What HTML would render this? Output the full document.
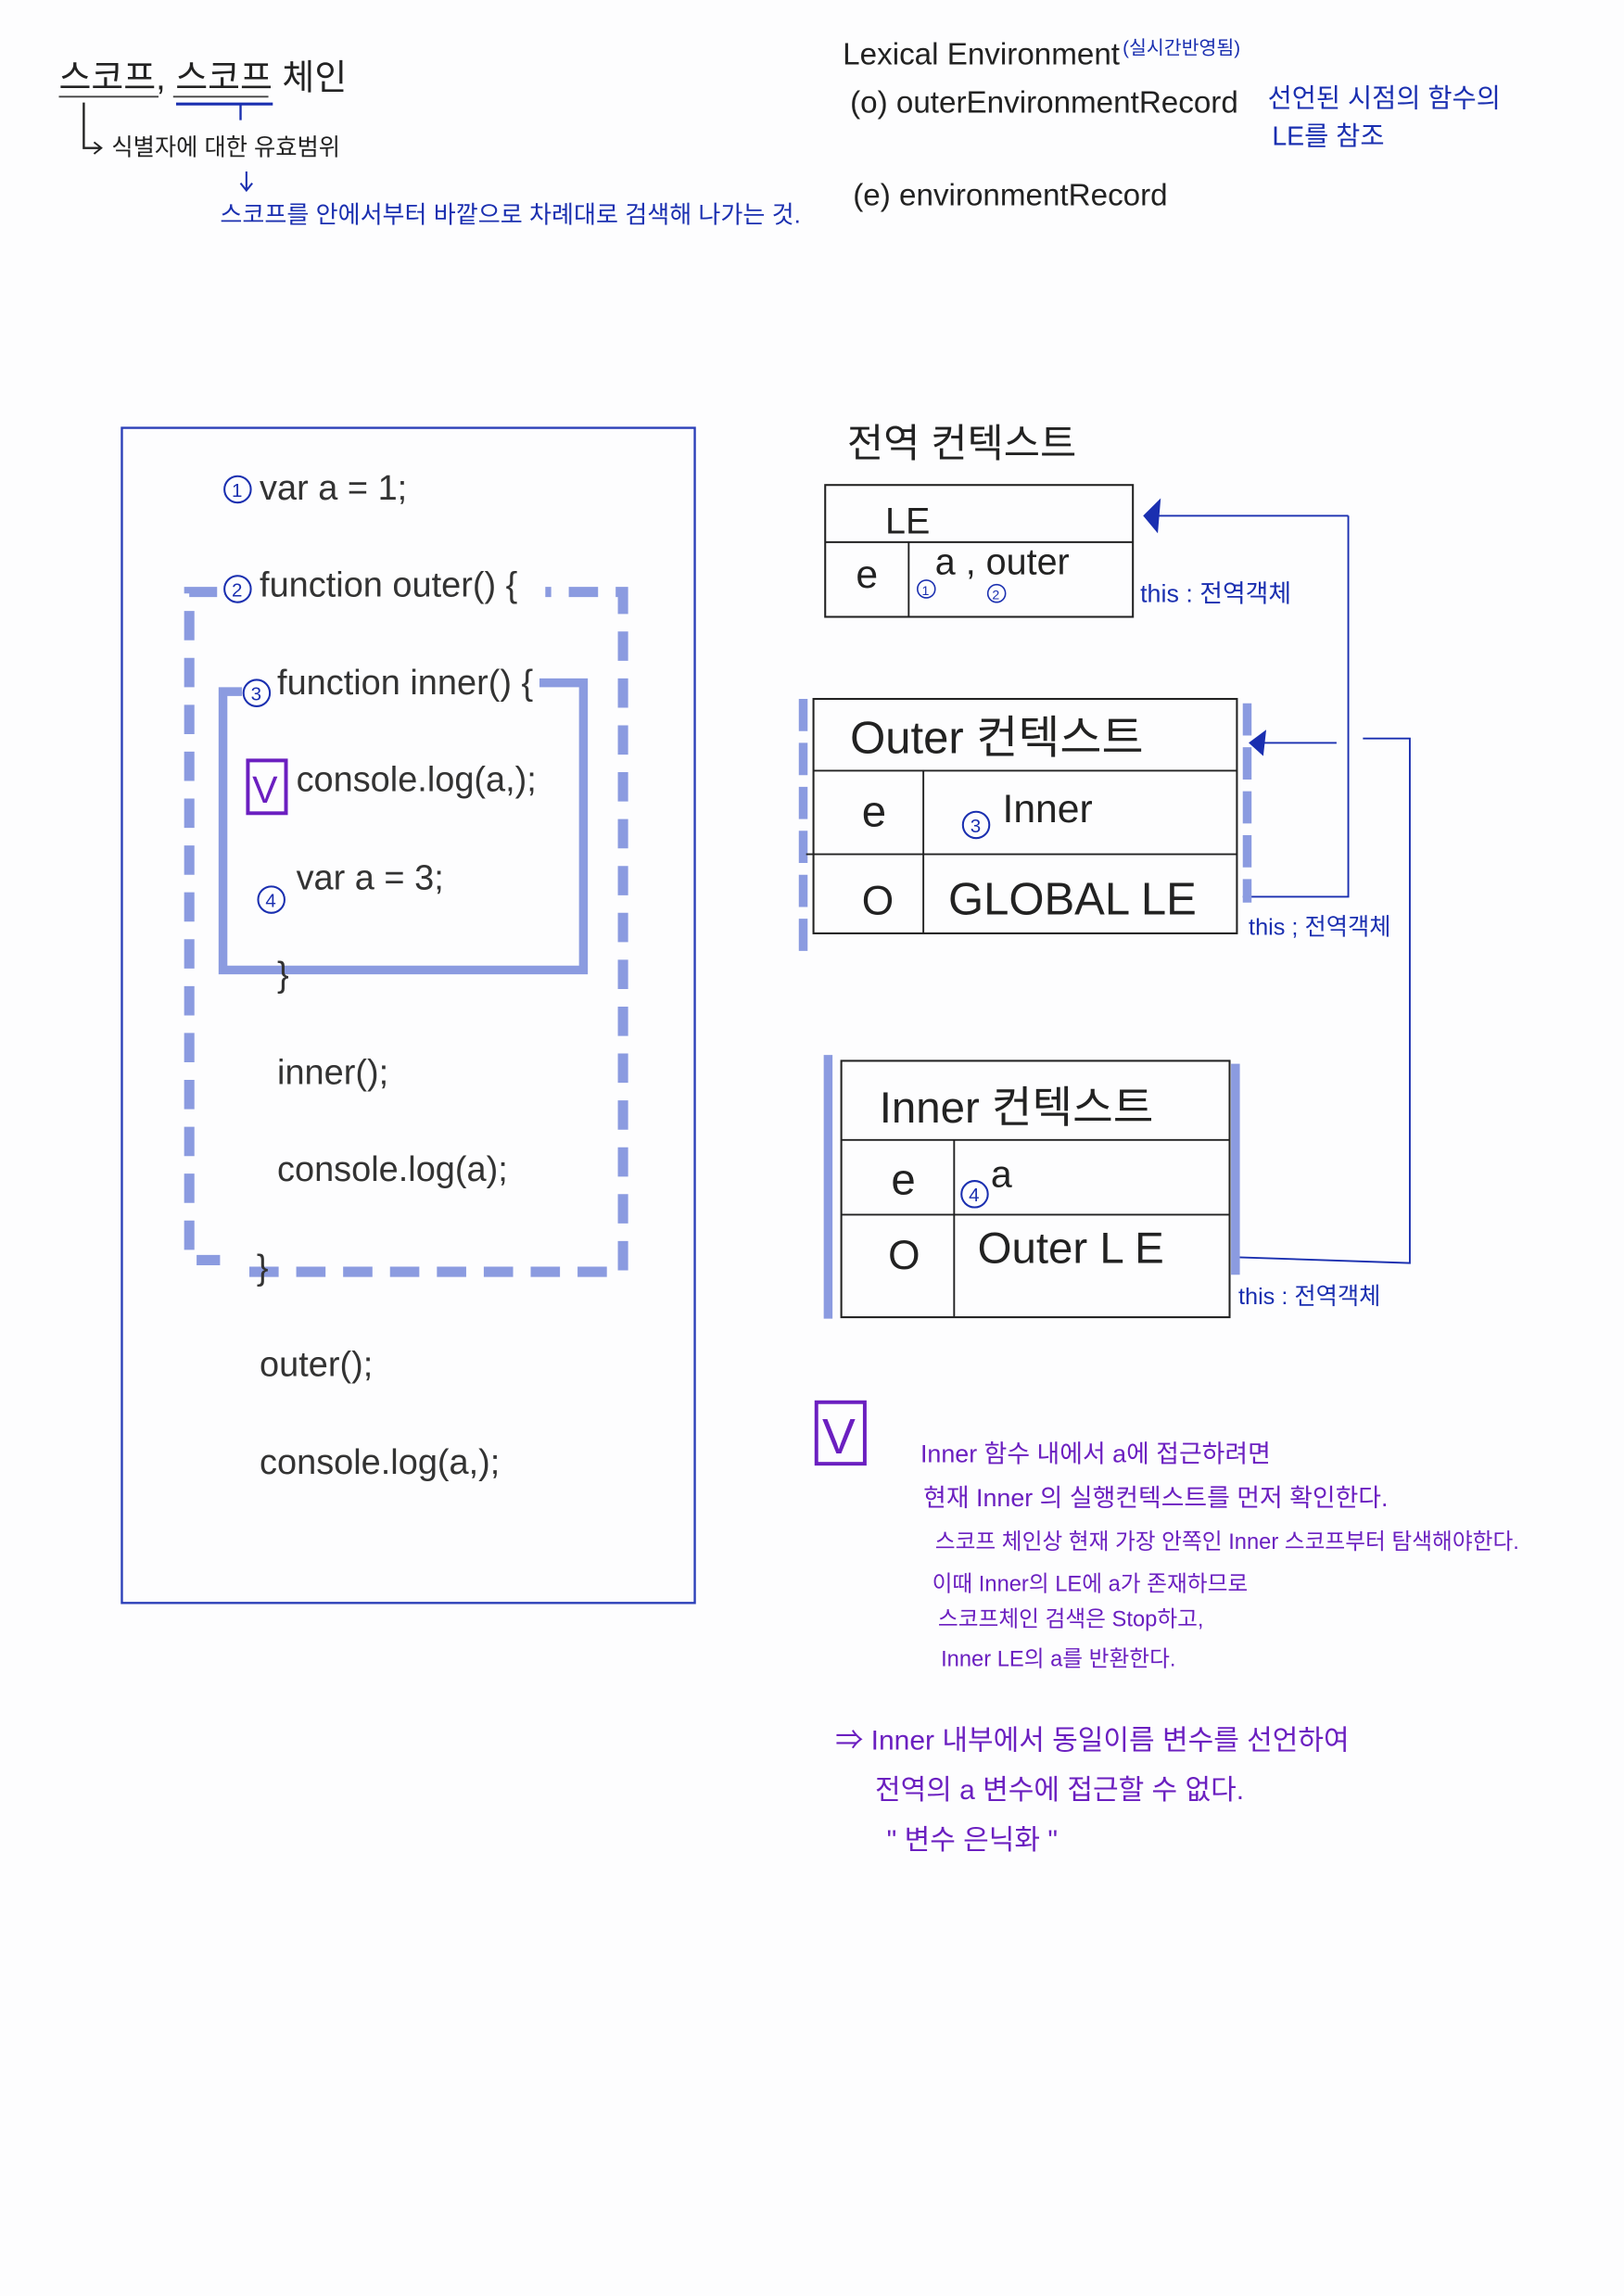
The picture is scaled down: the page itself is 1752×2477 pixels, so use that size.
<!DOCTYPE html>
<html><head><meta charset="utf-8"><style>
html,body{margin:0;padding:0;background:#fdfdfe;}
svg{display:block}
text{font-family:"Liberation Sans","Noto Sans CJK KR",sans-serif;}
.k{fill:#222}
.b{fill:#1a2fb0}
.p{fill:#6b1fc0}
.c{fill:#333;font-size:24px}
</style></head><body>
<svg width="1752" height="2477" viewBox="0 0 1108 1567" xmlns="http://www.w3.org/2000/svg">
<rect width="1108" height="1567" fill="#fdfdfe"/>
<!-- top left -->
<text x="40" y="61" class="k" font-size="24">스코프, 스코프 체인</text>
<line x1="40" y1="66" x2="108" y2="66" stroke="#444" stroke-width="1.2"/>
<line x1="118" y1="66" x2="183" y2="66" stroke="#444" stroke-width="1.2"/>
<line x1="120" y1="71" x2="186" y2="71" stroke="#1a2fb0" stroke-width="2"/>
<line x1="164" y1="71" x2="164" y2="82" stroke="#1a2fb0" stroke-width="1.5"/>
<path d="M57 70 V101 H68" fill="none" stroke="#222" stroke-width="1.5"/>
<path d="M64 97 L69 101 L64 105" fill="none" stroke="#222" stroke-width="1.2"/>
<text x="76" y="106" class="k" font-size="16">식별자에 대한 유효범위</text>
<path d="M168 117 V129 M164 125 L168 130 L172 125" fill="none" stroke="#1a2fb0" stroke-width="1.3"/>
<text x="150" y="152" class="b" font-size="16.5">스코프를 안에서부터 바깥으로 차례대로 검색해 나가는 것.</text>
<!-- top right -->
<text x="575" y="44" class="k" font-size="21">Lexical Environment</text>
<text x="766" y="37" class="b" font-size="13">(실시간반영됨)</text>
<text x="580" y="77" class="k" font-size="21">(o) outerEnvironmentRecord</text>
<text x="865" y="73" class="b" font-size="18">선언된 시점의 함수의</text>
<text x="868" y="99" class="b" font-size="18">LE를 참조</text>
<text x="582" y="140" class="k" font-size="21">(e) environmentRecord</text>
<!-- left code box -->
<rect x="83" y="292" width="391" height="802" fill="none" stroke="#2b3fb8" stroke-width="1.5"/>
<g stroke="#8b9be0" stroke-width="7" fill="none" stroke-dasharray="20 12">
<path d="M148 404 H129 V860 H150"/>
<path d="M170 868 H425 V404 H372"/>
</g>
<g stroke="#8b9be0" stroke-width="6" fill="none">
<path d="M165 472 H152 V662 H398 V466 H368"/>
</g>
<g font-size="15" class="b">
<circle cx="162" cy="334" r="9" fill="none" stroke="#1a2fb0" stroke-width="1.3"/><text x="158" y="339" font-size="13">1</text>
<circle cx="162" cy="402" r="9" fill="none" stroke="#1a2fb0" stroke-width="1.3"/><text x="158" y="407" font-size="13">2</text>
<circle cx="175" cy="473" r="9" fill="none" stroke="#1a2fb0" stroke-width="1.3"/><text x="171" y="478" font-size="13">3</text>
<circle cx="185" cy="614" r="9" fill="none" stroke="#1a2fb0" stroke-width="1.3"/><text x="181" y="619" font-size="13">4</text>
</g>
<rect x="169" y="519" width="26" height="36" fill="none" stroke="#6b1fc0" stroke-width="2.5"/>
<text x="172" y="548" class="p" font-size="26">V</text>
<text x="177" y="341" class="c">var a = 1;</text>
<text x="177" y="407" class="c">function outer() {</text>
<text x="189" y="474" class="c">function inner() {</text>
<text x="202" y="540" class="c">console.log(a,);</text>
<text x="202" y="607" class="c">var a = 3;</text>
<text x="189" y="673" class="c">}</text>
<text x="189" y="740" class="c">inner();</text>
<text x="189" y="806" class="c">console.log(a);</text>
<text x="175" y="873" class="c">}</text>
<text x="177" y="939" class="c">outer();</text>
<text x="177" y="1006" class="c">console.log(a,);</text>
<!-- global context -->
<text x="578" y="312" class="k" font-size="27">전역 컨텍스트</text>
<rect x="563" y="331" width="210" height="90" fill="none" stroke="#222" stroke-width="1.3"/>
<line x1="563" y1="370" x2="773" y2="370" stroke="#222" stroke-width="1.2"/>
<line x1="620" y1="370" x2="620" y2="421" stroke="#222" stroke-width="1.2"/>
<text x="604" y="364" class="k" font-size="25">LE</text>
<text x="584" y="401" class="k" font-size="27">e</text>
<text x="638" y="392" class="k" font-size="25">a , outer</text>
<circle cx="632" cy="402" r="6" fill="none" stroke="#1a2fb0" stroke-width="1"/><text x="629" y="406" class="b" font-size="9">1</text>
<circle cx="680" cy="405" r="6" fill="none" stroke="#1a2fb0" stroke-width="1"/><text x="677" y="409" class="b" font-size="9">2</text>
<path d="M920 352 H782" stroke="#1a2fb0" stroke-width="1.2" fill="none"/>
<path d="M780 352 L792 340 L790 364 Z" fill="#1a2fb0"/>
<path d="M920 352 V612 H848" stroke="#1a2fb0" stroke-width="1.2" fill="none"/>
<text x="778" y="411" class="b" font-size="17">this : 전역객체</text>
<!-- outer context -->
<line x1="548" y1="477" x2="548" y2="652" stroke="#8b9be0" stroke-width="6" stroke-dasharray="22 8"/>
<line x1="851" y1="480" x2="851" y2="616" stroke="#8b9be0" stroke-width="6" stroke-dasharray="22 8"/>
<rect x="555" y="477" width="289" height="160" fill="none" stroke="#222" stroke-width="1.3"/>
<line x1="555" y1="526" x2="844" y2="526" stroke="#222" stroke-width="1.2"/>
<line x1="550" y1="583" x2="844" y2="583" stroke="#222" stroke-width="1.2"/>
<line x1="630" y1="526" x2="630" y2="637" stroke="#222" stroke-width="1.2"/>
<text x="580" y="514" class="k" font-size="31">Outer 컨텍스트</text>
<text x="588" y="564" class="k" font-size="30">e</text>
<circle cx="666" cy="563" r="9" fill="none" stroke="#1a2fb0" stroke-width="1.3"/><text x="662" y="568" class="b" font-size="13">3</text>
<text x="684" y="561" class="k" font-size="27">Inner</text>
<text x="588" y="624" class="k" font-size="28">O</text>
<text x="647" y="624" class="k" font-size="31">GLOBAL LE</text>
<path d="M912 507 H858" stroke="#1a2fb0" stroke-width="1.2" fill="none"/>
<path d="M852 507 L864 498 L862 516 Z" fill="#1a2fb0"/>
<path d="M930 504 H962 V862 L843 858" stroke="#1a2fb0" stroke-width="1.2" fill="none"/>
<text x="852" y="638" class="b" font-size="16">this ; 전역객체</text>
<!-- inner context -->
<line x1="565" y1="720" x2="565" y2="900" stroke="#8b9be0" stroke-width="6"/>
<line x1="843" y1="726" x2="843" y2="870" stroke="#8b9be0" stroke-width="6"/>
<rect x="574" y="724" width="265" height="175" fill="none" stroke="#222" stroke-width="1.3"/>
<line x1="574" y1="778" x2="839" y2="778" stroke="#222" stroke-width="1.2"/>
<line x1="574" y1="829" x2="839" y2="829" stroke="#222" stroke-width="1.2"/>
<line x1="651" y1="778" x2="651" y2="899" stroke="#222" stroke-width="1.2"/>
<text x="600" y="766" class="k" font-size="30">Inner 컨텍스트</text>
<text x="608" y="815" class="k" font-size="30">e</text>
<circle cx="665" cy="815" r="9" fill="none" stroke="#1a2fb0" stroke-width="1.3"/><text x="661" y="820" class="b" font-size="13">4</text>
<text x="676" y="810" class="k" font-size="26">a</text>
<text x="606" y="866" class="k" font-size="28">O</text>
<text x="667" y="862" class="k" font-size="30">Outer L E</text>
<text x="845" y="890" class="b" font-size="16">this : 전역객체</text>
<!-- note -->
<rect x="557" y="957" width="33" height="42" fill="none" stroke="#6b1fc0" stroke-width="2.5"/>
<text x="561" y="992" class="p" font-size="34">V</text>
<g class="p" font-size="17">
<text x="628" y="998">Inner 함수 내에서 a에 접근하려면</text>
<text x="630" y="1028">현재 Inner 의 실행컨텍스트를 먼저 확인한다.</text>
<text x="638" y="1057" font-size="15">스코프 체인상 현재 가장 안쪽인 Inner 스코프부터 탐색해야한다.</text>
<text x="636" y="1086" font-size="15">이때 Inner의 LE에 a가 존재하므로</text>
<text x="640" y="1110" font-size="15">스코프체인 검색은 Stop하고,</text>
<text x="642" y="1137" font-size="15">Inner LE의 a를 반환한다.</text>
<text x="570" y="1194" font-size="19">⇒ Inner 내부에서 동일이름 변수를 선언하여</text>
<text x="597" y="1228" font-size="19">전역의 a 변수에 접근할 수 없다.</text>
<text x="605" y="1262" font-size="19">" 변수 은닉화 "</text>
</g>
</svg>
</body></html>
